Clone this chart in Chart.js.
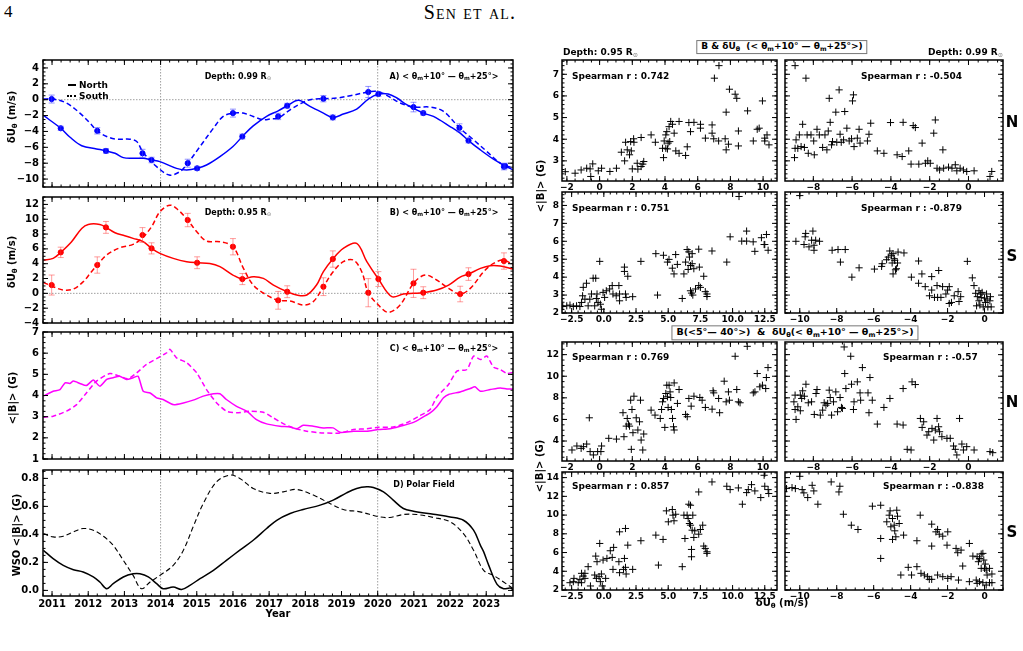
<!DOCTYPE html>
<html>
<head>
<meta charset="utf-8">
<script src="https://cdn.jsdelivr.net/npm/chart.js@4.4.0/dist/chart.umd.min.js"></script>
<style>
    body { margin: 0; background: #fff; }
    #page { position: relative; width: 1023px; height: 651px; overflow: hidden; font-family: "DejaVu Sans", sans-serif; color: #000; }
    #page canvas { position: absolute; }
    .t { position: absolute; font-weight: bold; white-space: nowrap; transform: translate(-50%, -50%); line-height: 1; }
    .l { transform: translate(0, -50%); }
    .r { transform: translate(-100%, -50%); }
    .rot { transform: translate(-50%, -50%) rotate(-90deg); }
    .t sub { font-size: 70%; vertical-align: -0.25em; }
    .sun { color: #999; }
    .box { border: 1px solid #777; padding: 1px 4px; background: #fff; }
    .hdr { position: absolute; font-family: "Liberation Serif", "DejaVu Serif", serif; font-size: 17px; }
    .leg { position: absolute; width: 8px; height: 2px; background: #000; }
    .leg.dash { width: 9px; background: repeating-linear-gradient(90deg, #000 0 2px, transparent 2px 3.5px); }
</style>
</head>
<body>
<div id="page">
    <div class="hdr" style="left:4px; top:2px;">4</div>
    <div class="hdr" style="left:470px; top:1px; transform:translateX(-50%); font-size:20px; font-variant:small-caps; letter-spacing:1.2px;">Sen et al.</div>

    <!-- left column texts -->
    <div class="t" style="left:238px; top:77px; font-size:8px;">Depth: 0.99 R<sub class="sun">⊙</sub></div>
    <div class="t" style="left:444px; top:77px; font-size:8px;">A) &lt; θ<sub>m</sub>+10° — θ<sub>m</sub>+25°&gt;</div>
    <div class="leg" style="left:68px; top:84px;"></div>
    <div class="t l" style="left:79px; top:85px; font-size:9px;">North</div>
    <div class="leg dash" style="left:67px; top:95px;"></div>
    <div class="t l" style="left:79px; top:96px; font-size:9px;">South</div>
    <div class="t" style="left:238px; top:213px; font-size:8px;">Depth: 0.95 R<sub class="sun">⊙</sub></div>
    <div class="t" style="left:444px; top:213px; font-size:8px;">B) &lt; θ<sub>m</sub>+10° — θ<sub>m</sub>+25°&gt;</div>
    <div class="t" style="left:444px; top:349px; font-size:8px;">C) &lt; θ<sub>m</sub>+10° — θ<sub>m</sub>+25°&gt;</div>
    <div class="t" style="left:424px; top:485px; font-size:8px;">D) Polar Field</div>
    <div class="t rot" style="left:13px; top:117px; font-size:10px;">δU<sub>θ</sub> (m/s)</div>
    <div class="t rot" style="left:13px; top:262px; font-size:10px;">δU<sub>θ</sub> (m/s)</div>
    <div class="t rot" style="left:13px; top:398px; font-size:10px;">&lt;|B|&gt; (G)</div>
    <div class="t rot" style="left:17px; top:535px; font-size:10px;">WSO &lt;|B|&gt; (G)</div>
    <div class="t" style="left:278px; top:614px; font-size:10px;">Year</div>

    <!-- right column texts -->
    <div class="t box" style="left:782px; top:47px; font-size:9px;">B &amp; δU<sub>θ</sub> &nbsp;(&lt; θ<sub>m</sub>+10° — θ<sub>m</sub>+25°&gt;)</div>
    <div class="t l" style="left:563px; top:53px; font-size:9px;">Depth: 0.95 R<sub class="sun">⊙</sub></div>
    <div class="t r" style="left:1003px; top:53px; font-size:9px;">Depth: 0.99 R<sub class="sun">⊙</sub></div>
    <div class="t box" style="left:795px; top:333px; font-size:9.5px;">B(&lt;5°— 40°&gt;) &nbsp;&amp;&nbsp; δU<sub>θ</sub>(&lt; θ<sub>m</sub>+10° — θ<sub>m</sub>+25°&gt;)</div>
    <div class="t" style="left:1012px; top:122px; font-size:15px;">N</div>
    <div class="t" style="left:1012px; top:256px; font-size:15px;">S</div>
    <div class="t" style="left:1012px; top:402px; font-size:15px;">N</div>
    <div class="t" style="left:1012px; top:532px; font-size:15px;">S</div>
    <div class="t rot" style="left:541px; top:186px; font-size:10px;">&lt;|B|&gt; (G)</div>
    <div class="t rot" style="left:540px; top:466px; font-size:10px;">&lt;|B|&gt; (G)</div>
    <div class="t" style="left:782px; top:604px; font-size:10px;">δU<sub>θ</sub> (m/s)</div>
</div>

<script>
// ---- time axis ----
const yearTicks = [2011, 2012, 2013, 2014, 2015, 2016, 2017, 2018, 2019, 2020, 2021, 2022, 2023];
const refYears = [2014, 2020];

// ---- panel A: dU_theta at 0.99 Rsun ----
const aNorthLine = [[2010.76,-1.98],[2011.24,-3.6],[2011.49,-4.7],[2011.82,-5.8],[2012.23,-6.2],[2012.49,-6.45],[2012.74,-6.75],[2012.97,-7.3],[2013.24,-7.38],[2013.52,-7.38],[2013.75,-7.6],[2013.98,-7.8],[2014.44,-8.65],[2014.72,-8.86],[2015.01,-8.65],[2015.27,-8.23],[2015.64,-7.17],[2016.0,-5.9],[2016.26,-4.64],[2016.56,-3.3],[2016.93,-2.1],[2017.25,-1.4],[2017.5,-0.76],[2017.81,-0.08],[2018.13,-0.84],[2018.5,-1.69],[2018.76,-2.24],[2019.05,-1.81],[2019.42,-1.18],[2019.74,0.08],[2020.02,0.72],[2020.29,0.72],[2020.53,0.21],[2020.8,-0.63],[2021.26,-1.69],[2021.54,-2.11],[2022.0,-3.38],[2022.28,-4.22],[2022.51,-5.15],[2022.84,-6.33],[2023.2,-7.5],[2023.52,-8.35],[2023.75,-8.86]];
const aSouthLine = [[2010.76,0.08],[2011.03,0.08],[2011.4,-0.42],[2011.77,-1.69],[2012.05,-2.95],[2012.25,-3.92],[2012.51,-4.64],[2012.78,-4.98],[2013.15,-4.98],[2013.34,-5.27],[2013.5,-6.54],[2013.66,-7.38],[2013.89,-8.44],[2014.24,-9.49],[2014.53,-9.07],[2014.75,-8.0],[2015.09,-5.9],[2015.46,-3.59],[2015.73,-2.11],[2016.0,-1.69],[2016.28,-1.69],[2016.56,-2.11],[2016.84,-2.53],[2017.07,-2.4],[2017.25,-2.32],[2017.58,-1.27],[2017.85,-0.55],[2018.13,0],[2018.5,0.13],[2018.87,0.21],[2019.24,0.5],[2019.74,0.97],[2019.97,1.05],[2020.25,0.55],[2020.62,-0.42],[2020.99,-0.93],[2021.45,-0.93],[2021.82,-1.48],[2022.26,-3.54],[2022.65,-5.06],[2023.02,-6.54],[2023.39,-8.0],[2023.75,-8.65]];
const aNorthPts = [[2011.24,-3.6,0.25],[2012.49,-6.45,0.3],[2013.75,-7.6,0.35],[2015.01,-8.65,0.25],[2016.26,-4.64,0.3],[2017.5,-0.76,0.3],[2018.76,-2.24,0.3],[2020.02,0.72,0.3],[2021.26,-1.69,0.25],[2022.51,-5.15,0.3],[2023.52,-8.35,0.35]];
const aSouthPts = [[2010.99,0.08,0.5],[2012.25,-3.92,0.4],[2013.5,-6.75,0.5],[2014.75,-8.0,0.5],[2016.0,-1.69,0.5],[2017.25,-2.11,0.4],[2018.5,0.13,0.4],[2019.74,0.97,0.7],[2020.99,-0.93,0.6],[2022.26,-3.54,0.5],[2023.49,-8.44,0.4]];

// ---- panel B: dU_theta at 0.95 Rsun ----
const bNorthLine = [[2010.76,4.49],[2011.03,4.72],[2011.24,5.53],[2011.54,6.97],[2011.82,8.76],[2012.0,9.3],[2012.32,9.3],[2012.49,8.9],[2012.74,8.18],[2013.01,7.78],[2013.24,7.42],[2013.52,6.97],[2013.75,6.07],[2013.98,5.39],[2014.35,4.72],[2014.72,4.27],[2015.01,4.13],[2015.36,4.04],[2015.64,3.6],[2016.0,2.47],[2016.26,1.93],[2016.56,2.25],[2016.84,2.02],[2017.12,1.12],[2017.5,0.22],[2017.76,-0.22],[2018.04,-0.22],[2018.31,1.12],[2018.5,2.92],[2018.76,4.63],[2019.05,6.07],[2019.42,6.74],[2019.7,4.27],[2020.02,1.93],[2020.39,-0.45],[2020.71,-0.09],[2020.99,0],[2021.26,0.09],[2021.63,0.45],[2021.96,1.12],[2022.28,2.2],[2022.51,2.6],[2022.84,3.37],[2023.11,3.73],[2023.39,3.69],[2023.75,3.28]];
const bSouthLine = [[2010.76,1.48],[2011.03,0.9],[2011.31,0.45],[2011.59,0.58],[2011.86,1.57],[2012.09,2.92],[2012.25,3.82],[2012.51,5.17],[2012.88,6.16],[2013.24,6.61],[2013.5,7.51],[2013.75,8.99],[2013.98,11.0],[2014.26,11.9],[2014.49,11.24],[2014.75,9.89],[2015.0,8.31],[2015.27,7.06],[2015.64,6.97],[2016.0,6.29],[2016.29,3.37],[2016.56,1.12],[2016.93,-0.22],[2017.25,-0.94],[2017.58,-1.03],[2017.95,-1.57],[2018.22,-1.12],[2018.5,0.9],[2018.77,2.92],[2019.05,4.27],[2019.33,4.49],[2019.56,2.92],[2019.74,0.09],[2020.02,-1.57],[2020.29,-2.56],[2020.62,-1.57],[2020.99,1.35],[2021.31,2.47],[2021.63,1.8],[2021.96,0.67],[2022.28,-0.09],[2022.56,0.67],[2022.93,2.92],[2023.2,4.04],[2023.48,4.49],[2023.75,3.82]];
const bNorthPts = [[2011.24,5.53,0.7],[2012.49,8.9,0.8],[2013.75,6.07,0.75],[2015.01,4.13,0.8],[2016.26,1.93,0.75],[2017.5,0.22,0.8],[2018.76,4.63,1.1],[2020.02,1.93,1.0],[2021.26,0.09,0.8],[2022.51,2.6,0.85]];
const bSouthPts = [[2010.99,1.12,1.35],[2012.25,3.82,1.1],[2013.5,7.87,1.0],[2014.75,9.89,0.9],[2016.0,6.29,1.1],[2017.25,-0.94,1.2],[2018.5,0.9,1.2],[2019.74,0.09,1.9],[2020.99,1.35,1.9],[2022.28,-0.09,1.05],[2023.49,4.36,1.1]];

// ---- panel C: <|B|> in the same band ----
const cNorth = [[2010.76,3.97],[2011.03,4.2],[2011.22,4.28],[2011.36,4.6],[2011.49,4.57],[2011.59,4.68],[2011.77,4.57],[2011.95,4.47],[2012.14,4.73],[2012.32,4.44],[2012.51,4.76],[2012.69,4.84],[2012.87,4.91],[2013.06,4.76],[2013.24,4.84],[2013.38,4.91],[2013.52,4.2],[2013.71,4.12],[2013.89,3.89],[2014.07,3.81],[2014.35,3.57],[2014.63,3.65],[2014.9,3.78],[2015.18,3.97],[2015.46,4.08],[2015.64,4.08],[2015.82,3.81],[2016.1,3.49],[2016.38,3.26],[2016.65,2.86],[2016.93,2.66],[2017.3,2.55],[2017.58,2.51],[2017.76,2.43],[2017.94,2.59],[2018.22,2.55],[2018.5,2.47],[2018.77,2.47],[2018.96,2.26],[2019.33,2.31],[2019.7,2.31],[2020.02,2.39],[2020.34,2.43],[2020.62,2.55],[2020.99,2.73],[2021.26,2.99],[2021.45,3.18],[2021.63,3.46],[2021.82,3.89],[2021.96,4.05],[2022.28,4.17],[2022.56,4.33],[2022.69,4.41],[2022.84,4.2],[2023.11,4.28],[2023.39,4.36],[2023.57,4.31],[2023.75,4.31]];
const cSouth = [[2010.76,2.97],[2011.03,3.02],[2011.4,3.26],[2011.68,3.57],[2011.95,4.12],[2012.23,4.68],[2012.6,5.04],[2012.87,4.91],[2013.1,4.79],[2013.34,5.07],[2013.61,5.47],[2013.89,5.74],[2014.17,6.02],[2014.26,6.18],[2014.44,5.78],[2014.72,5.55],[2015.0,5.07],[2015.27,4.28],[2015.55,3.65],[2015.82,3.26],[2016.1,3.18],[2016.47,3.26],[2016.84,3.21],[2017.12,2.94],[2017.39,2.67],[2017.67,2.47],[2018.04,2.31],[2018.5,2.23],[2018.96,2.23],[2019.33,2.39],[2019.7,2.43],[2020.02,2.5],[2020.43,2.51],[2020.8,2.71],[2021.17,3.05],[2021.45,3.34],[2021.63,3.92],[2021.96,4.52],[2022.19,5.15],[2022.47,5.23],[2022.65,5.86],[2022.84,5.7],[2023.02,5.86],[2023.2,5.34],[2023.39,5.23],[2023.57,5.04],[2023.75,5.1]];

// ---- panel D: WSO polar field ----
const dNorth = [[2010.76,0.287],[2011.03,0.227],[2011.31,0.179],[2011.59,0.148],[2011.86,0.131],[2012.14,0.096],[2012.32,0.06],[2012.51,0.012],[2012.69,0.048],[2012.97,0.096],[2013.24,0.119],[2013.43,0.119],[2013.66,0.096],[2013.89,0.048],[2014.07,0.012],[2014.35,0.024],[2014.58,0.007],[2014.81,0.036],[2015.09,0.084],[2015.46,0.143],[2015.82,0.215],[2016.19,0.287],[2016.56,0.358],[2016.93,0.442],[2017.21,0.501],[2017.58,0.549],[2017.94,0.578],[2018.41,0.609],[2018.77,0.645],[2019.14,0.697],[2019.42,0.728],[2019.7,0.74],[2019.88,0.735],[2020.16,0.704],[2020.43,0.645],[2020.71,0.585],[2020.99,0.566],[2021.54,0.544],[2022.0,0.525],[2022.37,0.501],[2022.65,0.43],[2022.84,0.322],[2022.93,0.275],[2023.07,0.179],[2023.3,0.043],[2023.48,0.012],[2023.66,0.017],[2023.75,0.005]];
const dSouth = [[2010.76,0.406],[2011.03,0.382],[2011.31,0.387],[2011.59,0.418],[2011.86,0.442],[2012.14,0.43],[2012.42,0.387],[2012.69,0.322],[2012.97,0.215],[2013.24,0.107],[2013.47,0.012],[2013.71,0.06],[2013.98,0.107],[2014.35,0.179],[2014.63,0.287],[2014.9,0.454],[2015.18,0.621],[2015.55,0.776],[2015.92,0.824],[2016.19,0.8],[2016.56,0.728],[2017.02,0.693],[2017.39,0.704],[2017.76,0.721],[2018.22,0.681],[2018.68,0.621],[2019.05,0.578],[2019.51,0.561],[2020.06,0.525],[2020.34,0.521],[2020.71,0.542],[2021.08,0.542],[2021.54,0.521],[2022.0,0.49],[2022.37,0.406],[2022.65,0.287],[2022.93,0.143],[2023.2,0.107],[2023.48,0.06],[2023.75,0.012]];

// ---- scatter panels: [dU_theta, <|B|>] ----
const band95N = [[-2.1,2.5],[-1.5,2.43],[-1.13,2.58],[-0.79,2.66],[-0.58,2.63],[-0.42,2.86],[-0.54,2.28],[-0.08,2.54],[0.12,2.66],[0.63,2.51],[1.03,2.66],[1.33,3.4],[1.53,3.0],[1.59,3.86],[1.69,3.51],[1.83,3.28],[1.9,3.89],[1.94,3.46],[2.0,2.63],[2.08,4.02],[2.1,3.86],[2.3,2.89],[2.34,2.62],[2.54,4.08],[2.54,2.74],[2.64,2.85],[2.7,2.97],[3.15,4.2],[3.41,3.86],[3.85,3.58],[3.91,3.15],[3.95,3.92],[4.05,4.2],[4.11,4.35],[4.15,3.55],[4.25,4.58],[4.29,3.89],[4.35,4.82],[4.46,4.69],[4.56,4.28],[4.66,3.46],[4.86,4.82],[4.86,3.35],[5.26,3.25],[5.36,3.65],[5.46,4.77],[5.56,4.35],[5.77,4.78],[6.17,4.69],[6.17,4.51],[6.47,4.05],[6.88,4.66],[6.88,4.28],[6.98,4.02],[7.02,6.82],[7.3,7.4],[7.28,3.92],[7.68,4.02],[7.74,3.51],[7.74,5.25],[7.88,3.77],[7.94,6.31],[8.29,6.08],[8.39,5.89],[8.49,4.38],[8.49,3.69],[9.05,5.31],[9.4,3.92],[9.64,4.46],[9.76,4.51],[9.96,5.77],[10.1,4.05],[10.24,4.2],[10.36,3.74],[10.1,3.92],[4.19,3.82],[4.05,3.58]];
const band99N = [[-8.94,7.4],[-8.38,6.82],[-8.97,3.15],[-8.94,3.58],[-8.89,3.97],[-8.8,3.58],[-8.72,4.2],[-8.63,3.66],[-8.55,4.69],[-8.46,3.62],[-8.32,4.2],[-8.26,3.35],[-8.12,4.2],[-7.98,3.92],[-7.95,3.28],[-7.81,4.46],[-7.69,4.2],[-7.52,3.62],[-7.4,4.2],[-7.3,3.51],[-7.23,4.38],[-7.18,5.89],[-7.13,4.78],[-7.06,3.74],[-7.01,3.89],[-6.84,5.25],[-6.79,3.86],[-6.67,6.28],[-6.62,4.23],[-6.56,3.86],[-6.44,3.97],[-6.38,5.28],[-6.27,4.51],[-6.15,3.92],[-6.03,4.02],[-5.98,5.77],[-5.93,6.05],[-5.9,3.66],[-5.73,4.05],[-5.64,4.46],[-5.59,3.82],[-5.21,3.92],[-5.13,4.23],[-5.04,4.74],[-4.7,3.46],[-4.36,3.35],[-4.02,4.77],[-3.68,3.28],[-3.42,3.2],[-3.37,4.78],[-3.08,3.46],[-2.96,2.85],[-2.85,4.63],[-2.74,4.54],[-2.56,2.85],[-2.39,3.82],[-2.22,2.89],[-2.1,3.0],[-1.97,2.89],[-1.79,4.28],[-1.71,4.89],[-1.62,2.66],[-1.49,2.58],[-1.32,3.51],[-1.28,2.66],[-1.03,2.71],[-0.85,2.66],[-0.68,2.82],[-0.6,2.54],[-0.43,2.66],[-0.26,2.58],[-0.09,2.51],[0.29,2.54],[1.11,2.28],[1.2,2.51]];
const band95S = [[-3.19,2.36],[-2.88,2.4],[-2.63,2.44],[-2.37,2.36],[-2.12,2.4],[-1.86,2.36],[-1.73,2.59],[-1.65,2.96],[-1.6,3.43],[-1.47,2.77],[-1.35,3.66],[-1.22,2.4],[-1.09,2.77],[-0.96,3.06],[-0.83,3.94],[-0.71,2.4],[-0.63,3.94],[-0.58,2.81],[-0.53,3.06],[-0.45,2.59],[-0.32,4.88],[-0.27,2.49],[-0.19,2.21],[-0.06,3.15],[0.06,2.87],[0.19,3.24],[0.45,3.34],[0.65,3.53],[0.71,3.06],[0.96,2.96],[1.17,3.53],[1.22,2.68],[1.22,3.06],[1.6,4.56],[1.6,4.32],[1.68,3.06],[1.73,2.87],[1.86,4.05],[2.24,2.91],[2.88,4.88],[4.17,3.0],[4.04,5.31],[4.63,5.22],[4.94,4.84],[5.06,4.99],[5.32,4.5],[5.45,4.18],[5.58,5.26],[5.71,4.71],[6.09,2.81],[6.22,4.18],[6.35,4.84],[6.47,5.54],[6.6,5.41],[6.55,4.43],[6.65,5.12],[6.73,4.65],[6.73,3.24],[6.81,3.11],[6.86,5.31],[6.86,4.75],[6.91,3.0],[6.99,4.47],[7.12,3.34],[7.37,3.53],[7.37,5.56],[7.42,4.56],[7.5,3.43],[7.76,4.05],[7.88,3.19],[8.01,3.06],[8.01,2.92],[8.4,5.46],[9.55,4.84],[9.81,6.25],[10.5,8.5],[11.09,6.57],[10.71,6.01],[11.09,6.01],[11.6,5.97],[11.73,5.44],[12.24,6.2],[12.45,5.82],[12.63,6.38],[12.76,5.5],[12.5,5.82]];
const band99S = [[-10.0,8.55],[-10.21,6.0],[-9.71,6.25],[-9.68,6.44],[-9.77,5.82],[-9.5,5.69],[-9.36,6.06],[-9.29,6.57],[-9.23,5.5],[-9.14,6.06],[-9.23,5.78],[-8.93,6.0],[-8.25,5.5],[-7.93,5.54],[-7.54,5.54],[-7.8,4.84],[-7.18,4.0],[-6.79,4.52],[-5.96,4.45],[-5.57,4.6],[-5.54,4.75],[-5.3,4.97],[-5.21,5.12],[-5.13,5.46],[-5.04,5.22],[-5.0,4.79],[-4.95,4.18],[-4.95,5.31],[-4.86,4.94],[-4.82,4.41],[-4.77,4.47],[-4.71,4.79],[-4.89,5.03],[-4.68,5.4],[-4.36,5.35],[-3.96,4.0],[-3.57,4.9],[-3.57,3.66],[-3.39,4.18],[-3.21,3.47],[-2.86,4.03],[-2.98,2.96],[-2.86,3.28],[-2.71,2.87],[-2.57,3.53],[-2.54,2.87],[-2.48,4.37],[-2.36,2.87],[-2.27,3.47],[-2.09,3.06],[-2.0,3.28],[-1.91,3.47],[-1.91,2.53],[-1.79,2.59],[-1.64,2.96],[-1.43,3.19],[-1.38,2.64],[-1.29,2.91],[-0.93,4.88],[-0.66,3.96],[-0.57,3.53],[-0.48,3.1],[-0.39,2.91],[-0.3,3.24],[-0.25,2.45],[-0.21,3.06],[-0.18,2.87],[-0.13,3.15],[-0.07,2.34],[0.0,2.83],[0.05,2.59],[0.11,3.06],[0.18,2.34],[0.29,2.68],[0.36,2.34],[-0.3,2.68],[-0.43,2.4],[0.14,2.78],[0.32,2.91]];
const low95N = [[-1.69,3.17],[-1.39,3.54],[-1.13,3.32],[-0.99,3.48],[-0.79,3.72],[-0.58,3.02],[-0.63,6.15],[-0.38,2.71],[-0.12,3.02],[0.08,3.02],[0.12,3.54],[0.56,4.25],[1.03,4.18],[1.43,6.62],[1.49,4.4],[1.63,5.38],[1.69,6.09],[1.77,5.57],[1.83,5.38],[1.9,7.78],[1.94,3.23],[1.98,6.92],[2.04,4.77],[2.1,8.15],[2.24,6.15],[2.34,5.02],[2.44,5.78],[2.5,7.78],[2.54,4.09],[2.64,3.17],[2.7,4.65],[3.15,6.86],[3.39,6.4],[3.71,6.09],[3.79,6.92],[3.85,7.63],[3.91,7.94],[3.99,5.26],[4.05,8.4],[4.11,9.17],[4.15,8.09],[4.19,7.11],[4.25,9.17],[4.31,8.55],[4.35,8.03],[4.39,6.92],[4.46,6.09],[4.52,5.32],[4.56,9.38],[4.56,5.02],[4.76,7.48],[4.86,8.77],[5.26,6.46],[5.36,6.25],[5.46,7.94],[5.6,7.23],[5.77,8.15],[6.13,8.03],[6.27,7.78],[6.47,7.11],[6.88,6.95],[6.94,8.65],[6.98,8.46],[7.28,7.94],[7.34,6.62],[7.62,9.54],[7.74,7.63],[7.88,8.55],[7.94,7.78],[8.29,11.85],[8.39,8.77],[8.49,7.63],[8.59,7.54],[9.03,12.77],[9.5,8.55],[9.64,10.25],[9.8,9.02],[9.96,9.17],[10.16,8.86],[10.2,9.88],[10.3,10.8],[9.4,8.46]];
const low99N = [[-8.89,6.0],[-8.94,6.92],[-9.0,7.63],[-8.94,8.25],[-8.8,7.17],[-8.67,8.25],[-8.6,7.94],[-8.55,8.65],[-8.46,8.15],[-8.38,9.26],[-8.67,6.8],[-8.26,7.54],[-8.09,7.63],[-7.95,6.46],[-7.86,8.4],[-7.81,8.77],[-7.64,6.4],[-7.52,6.86],[-7.44,7.54],[-7.35,7.32],[-7.26,7.48],[-7.18,8.71],[-7.13,8.03],[-7.06,6.4],[-6.96,7.63],[-6.84,8.55],[-6.75,6.71],[-6.62,8.03],[-6.55,7.11],[-6.41,12.71],[-6.5,7.02],[-6.32,8.86],[-6.38,10.25],[-6.07,11.85],[-6.03,9.26],[-5.93,6.92],[-5.9,7.63],[-5.73,9.48],[-5.59,8.46],[-5.56,7.78],[-5.47,10.8],[-5.18,8.46],[-5.13,6.62],[-5.08,9.88],[-4.96,7.78],[-4.7,5.57],[-4.36,7.11],[-4.05,7.94],[-3.68,5.57],[-3.37,5.48],[-3.37,8.86],[-3.16,3.23],[-2.96,3.17],[-2.91,9.48],[-2.74,9.23],[-2.48,6.09],[-2.39,5.26],[-2.31,5.78],[-2.14,4.55],[-2.05,4.86],[-1.88,5.17],[-1.79,4.09],[-1.71,5.02],[-1.62,6.09],[-1.54,5.32],[-1.49,4.86],[-1.37,4.4],[-1.11,4.25],[-0.94,4.25],[-0.77,3.54],[-0.68,3.23],[-0.6,2.71],[-0.46,6.09],[-0.34,3.72],[-0.26,3.17],[-0.09,3.48],[0.29,3.17],[1.11,3.02],[1.25,2.92]];
const low95S = [[-2.63,2.78],[-2.37,2.89],[-2.32,3.24],[-1.99,2.78],[-1.86,3.14],[-1.73,2.78],[-1.73,3.78],[-1.6,3.49],[-1.47,3.24],[-1.47,3.78],[-1.22,4.49],[-1.04,2.43],[-0.71,3.6],[-0.63,5.62],[-0.58,3.24],[-0.53,5.02],[-0.37,3.42],[-0.32,6.97],[-0.27,2.89],[-0.19,3.71],[-0.12,2.43],[-0.06,5.2],[0.14,3.24],[0.24,5.37],[0.5,6.19],[0.65,5.48],[0.71,4.2],[0.76,6.55],[1.22,8.21],[1.17,5.02],[1.22,3.85],[1.53,4.2],[1.6,5.37],[1.68,8.57],[1.68,4.42],[1.73,3.71],[1.86,6.79],[2.24,4.2],[2.88,7.26],[4.04,7.86],[4.24,4.66],[4.6,7.4],[4.86,10.45],[5.01,9.28],[5.32,10.59],[5.37,9.99],[5.45,9.39],[5.58,10.09],[6.09,4.49],[6.22,9.99],[6.3,7.5],[6.47,9.99],[6.55,9.63],[6.6,11.16],[6.65,9.1],[6.73,8.92],[6.73,11.05],[6.81,6.33],[6.81,5.55],[6.86,8.39],[6.91,9.99],[6.99,7.61],[7.06,8.32],[7.37,12.47],[7.37,7.96],[7.5,8.46],[7.68,8.92],[7.76,6.69],[7.88,6.44],[8.01,5.91],[8.01,6.08],[8.4,13.54],[9.55,13.08],[9.81,12.72],[10.45,12.9],[10.76,11.16],[11.22,12.72],[11.09,12.4],[11.47,13.25],[11.73,12.58],[12.19,11.87],[12.45,14.25],[12.5,13.08],[12.76,12.72],[12.81,12.3]];
const low99S = [[-10.72,12.83],[-10.42,12.93],[-10.24,12.83],[-10.0,14.14],[-9.87,12.72],[-9.78,12.37],[-9.57,11.87],[-9.33,13.18],[-9.24,12.58],[-9.02,11.16],[-8.3,13.54],[-7.88,12.47],[-7.83,13.08],[-7.64,10.09],[-7.21,8.92],[-6.85,8.46],[-6.07,10.95],[-5.62,11.05],[-5.62,7.5],[-5.62,5.37],[-5.29,9.28],[-5.16,9.99],[-5.11,10.45],[-5.07,8.75],[-4.98,9.63],[-4.98,7.4],[-4.89,8.92],[-4.86,8.32],[-4.8,7.68],[-4.75,10.52],[-4.71,9.88],[-4.62,9.1],[-4.38,7.86],[-4.13,4.42],[-4.53,3.6],[-3.48,9.99],[-3.66,7.26],[-2.86,9.03],[-2.86,6.69],[-2.63,8.21],[-2.54,8.46],[-2.45,7.96],[-2.26,7.75],[-1.99,8.21],[-2.03,6.79],[-1.54,6.44],[-1.45,5.98],[-1.27,6.26],[-1.18,4.56],[-0.82,6.97],[-0.63,5.62],[-0.4,5.55],[-0.33,5.02],[-0.27,5.37],[-0.18,5.84],[-0.18,4.31],[-0.09,5.91],[-0.04,5.2],[0.0,4.31],[0.04,4.77],[0.09,4.13],[0.14,3.6],[0.27,4.31],[0.4,3.71],[-3.66,4.49],[-3.95,3.6],[-3.44,3.78],[-3.26,3.6],[-3.08,3.42],[-2.99,3.14],[-2.86,3.14],[-2.54,3.6],[-2.26,3.42],[-1.99,3.24],[-1.81,3.42],[-1.41,3.06],[-0.82,2.89],[-0.45,3.06],[-0.4,2.71],[-0.27,2.89],[-0.09,2.78],[0.09,2.53],[0.27,2.78],[0.4,2.78]];

const spearman = ['0.742', '-0.504', '0.751', '-0.879', '0.769', '-0.57', '0.857', '-0.838'];

// ---- helpers ----
function seg(ctx, x0, y0, x1, y1) {
    ctx.beginPath(); ctx.moveTo(x0, y0); ctx.lineTo(x1, y1); ctx.stroke();
}
function minorVals(min, max, step) {
    const out = [];
    if (!step) return out;
    for (let k = Math.ceil(min / step - 1e-9); k * step <= max + 1e-9; k++) out.push(k * step);
    return out;
}
function fmt(v, dec) {
    const s = Math.abs(v).toFixed(dec);
    return (v < -1e-9 ? '\u2212' : '') + s;
}
const xy = arr => arr.map(p => ({ x: p[0], y: p[1] }));

// box with inward ticks on four sides, plus dotted reference lines
const framePlugin = {
    id: 'frame',
    beforeDatasetsDraw(chart, args, o) {
        const { ctx, chartArea: a, scales: { x, y } } = chart;
        ctx.save();
        ctx.strokeStyle = '#888'; ctx.lineWidth = 0.8; ctx.setLineDash([1.5, 1.5]);
        (o.vlines || []).forEach(v => { const p = x.getPixelForValue(v); seg(ctx, p, a.top, p, a.bottom); });
        (o.hlines || []).forEach(v => { const p = y.getPixelForValue(v); seg(ctx, a.left, p, a.right, p); });
        ctx.restore();
    },
    afterDatasetsDraw(chart, args, o) {
        const { ctx, chartArea: a, scales: { x, y } } = chart;
        ctx.save();
        ctx.strokeStyle = '#000'; ctx.lineWidth = 1;
        const big = 5, small = 2.5;
        const xt = (v, len) => { const p = x.getPixelForValue(v); seg(ctx, p, a.bottom, p, a.bottom - len); seg(ctx, p, a.top, p, a.top + len); };
        const yt = (v, len) => { const p = y.getPixelForValue(v); seg(ctx, a.left, p, a.left + len, p); seg(ctx, a.right, p, a.right - len, p); };
        minorVals(x.min, x.max, o.xMinor).forEach(v => xt(v, small));
        minorVals(y.min, y.max, o.yMinor).forEach(v => yt(v, small));
        x.ticks.forEach(t => xt(t.value, big));
        y.ticks.forEach(t => yt(t.value, big));
        ctx.lineWidth = 1.5;
        ctx.strokeRect(a.left, a.top, a.right - a.left, a.bottom - a.top);
        ctx.restore();
    }
};

// vertical error bars from dataset.errors
const errorBarPlugin = {
    id: 'errbars',
    afterDatasetsDraw(chart) {
        const { ctx, scales: { y } } = chart;
        chart.data.datasets.forEach((ds, i) => {
            if (!ds.errors) return;
            const meta = chart.getDatasetMeta(i);
            ctx.save();
            ctx.strokeStyle = ds.errorColor; ctx.lineWidth = 1;
            meta.data.forEach((pt, j) => {
                const v = ds.data[j].y, e = ds.errors[j];
                const y0 = y.getPixelForValue(v - e), y1 = y.getPixelForValue(v + e);
                seg(ctx, pt.x, y0, pt.x, y1);
                seg(ctx, pt.x - 3, y0, pt.x + 3, y0);
                seg(ctx, pt.x - 3, y1, pt.x + 3, y1);
            });
            ctx.restore();
        });
    }
};

function axis(a, size, dir) {
    return {
        type: 'linear', min: a.min, max: a.max,
        grid: { display: false, drawTicks: false },
        border: { display: false },
        afterBuildTicks: s => { s.ticks = a.ticks.map(v => ({ value: v })); },
        afterFit: s => { if (dir === 'x') s.height = size; else s.width = size; },
        ticks: {
            display: a.labels !== false, autoSkip: false, maxRotation: 0, minRotation: 0,
            padding: a.pad !== undefined ? a.pad : 3, color: '#000',
            font: { family: 'DejaVu Sans', weight: 'bold', size: a.fs || 9 },
            callback: v => fmt(v, a.dec || 0)
        }
    };
}

function makePanel(box, pad, cfg) {
    const c = document.createElement('canvas');
    const W = box.w + pad.l + pad.r, H = box.h + pad.t + pad.b;
    c.width = W; c.height = H;
    c.style.left = (box.l - pad.l) + 'px';
    c.style.top = (box.t - pad.t) + 'px';
    c.style.width = W + 'px'; c.style.height = H + 'px';
    document.getElementById('page').insertBefore(c, document.getElementById('page').firstChild);
    return new Chart(c, {
        type: 'scatter',
        data: { datasets: cfg.datasets },
        options: {
            responsive: false, animation: false, devicePixelRatio: 1,
            layout: { padding: { top: pad.t, right: pad.r, left: 0, bottom: 0 } },
            plugins: { legend: { display: false }, tooltip: { enabled: false }, frame: cfg.frame },
            scales: { x: axis(cfg.x, pad.b, 'x'), y: axis(cfg.y, pad.l, 'y') }
        },
        plugins: [framePlugin, errorBarPlugin]
    });
}

function curve(data, color, dashed, width, tension) {
    return {
        data: xy(data), showLine: true, borderColor: color, borderWidth: width || 1.5,
        borderDash: dashed ? [5, 3] : [], pointRadius: 0, tension: tension === undefined ? 0.35 : tension
    };
}
function markers(data, color, errColor) {
    return {
        data: xy(data), showLine: false, pointRadius: 2.6, pointBackgroundColor: color,
        pointBorderColor: color, errors: data.map(p => p[2]), errorColor: errColor
    };
}
function crosses(data) {
    return {
        data: xy(data), showLine: false, pointStyle: 'cross', pointRadius: 3.6,
        pointBorderColor: '#000', pointBorderWidth: 1
    };
}

// ---- left column ----
const timeX = (labels) => ({ min: 2010.75, max: 2023.74, ticks: yearTicks, labels: labels, fs: 10, pad: 2 });
const leftPad = { l: 43, r: 8, t: 12, b: 12 };
const blue = '#0000ff', red = '#ff0000', mag = '#ff00ff';

makePanel({ l: 43, t: 60, w: 470, h: 127 }, leftPad, {
    datasets: [curve(aNorthLine, blue), curve(aSouthLine, blue, true),
        markers(aNorthPts, blue, 'rgba(60,60,255,0.55)'), markers(aSouthPts, blue, 'rgba(60,60,255,0.55)')],
    x: timeX(false),
    y: { min: -11, max: 5, ticks: [-10, -8, -6, -4, -2, 0, 2, 4], fs: 10, pad: 4 },
    frame: { vlines: refYears, hlines: [0], xMinor: 0.25, yMinor: 0.5 }
});
makePanel({ l: 43, t: 197, w: 470, h: 126 }, leftPad, {
    datasets: [curve(bNorthLine, red), curve(bSouthLine, red, true),
        markers(bNorthPts, red, 'rgba(255,60,60,0.5)'), markers(bSouthPts, red, 'rgba(255,60,60,0.5)')],
    x: timeX(false),
    y: { min: -4, max: 13, ticks: [-4, -2, 0, 2, 4, 6, 8, 10, 12], fs: 10, pad: 4 },
    frame: { vlines: refYears, hlines: [0], xMinor: 0.25, yMinor: 0.5 }
});
makePanel({ l: 43, t: 332, w: 470, h: 127 }, leftPad, {
    datasets: [curve(cNorth, mag, false, 1.5, 0.2), curve(cSouth, mag, true, 1.5, 0.2)],
    x: timeX(false),
    y: { min: 1, max: 7, ticks: [1, 2, 3, 4, 5, 6, 7], fs: 10, pad: 4 },
    frame: { vlines: refYears, xMinor: 0.25, yMinor: 0.25 }
});
makePanel({ l: 43, t: 470, w: 470, h: 126 }, { l: 43, r: 8, t: 12, b: 22 }, {
    datasets: [curve(dNorth, '#000', false, 1.5), curve(dSouth, '#000', true, 1.1)],
    x: timeX(true),
    y: { min: -0.04, max: 0.86, ticks: [0, 0.2, 0.4, 0.6, 0.8], dec: 1, fs: 10, pad: 4 },
    frame: { vlines: refYears, xMinor: 0.25, yMinor: 0.05 }
});

// ---- right block: 4 rows x 2 columns ----
const colBox = [{ l: 562, w: 217 }, { l: 783, w: 220 }];
const rowBox = [{ t: 60, h: 121 }, { t: 192, h: 121 }, { t: 342, h: 119 }, { t: 472, h: 118 }];
const xAxes = {
    N: [{ min: -2.3, max: 10.85, ticks: [-2, 0, 2, 4, 6, 8, 10], minor: 0.5, dec: 0 },
        { min: -9.46, max: 1.78, ticks: [-8, -6, -4, -2, 0], minor: 0.5, dec: 0 }],
    S: [{ min: -3.25, max: 13.45, ticks: [-2.5, 0, 2.5, 5, 7.5, 10, 12.5], minor: 0.5, dec: 1 },
        { min: -10.8, max: 1.0, ticks: [-10, -8, -6, -4, -2, 0], minor: 0.5, dec: 0 }]
};
const rows = [
    { hemi: 'N', y: { min: 2.07, max: 7.66, ticks: [3, 4, 5, 6, 7] }, yMinor: 0.2, sets: [band95N, band99N] },
    { hemi: 'S', y: { min: 2, max: 8.75, ticks: [2, 3, 4, 5, 6, 7, 8] }, yMinor: 0.2, sets: [band95S, band99S] },
    { hemi: 'N', y: { min: 2.15, max: 13.17, ticks: [4, 6, 8, 10, 12] }, yMinor: 0.5, sets: [low95N, low99N] },
    { hemi: 'S', y: { min: 2, max: 14.6, ticks: [2, 4, 6, 8, 10, 12, 14] }, yMinor: 0.5, sets: [low95S, low99S] }
];
const spearPos = [[572, 76], [861, 76], [572, 208], [861, 208], [572, 357], [883, 357], [572, 486], [883, 486]];

rows.forEach((row, ri) => {
    [0, 1].forEach(ci => {
        const xa = xAxes[row.hemi][ci];
        const box = { l: colBox[ci].l, w: colBox[ci].w, t: rowBox[ri].t, h: rowBox[ri].h };
        const pad = ci === 0 ? { l: 22, r: 3, t: 12, b: 14 } : { l: 3, r: 8, t: 12, b: 14 };
        makePanel(box, pad, {
            datasets: [crosses(row.sets[ci])],
            x: { min: xa.min, max: xa.max, ticks: xa.ticks, dec: xa.dec, fs: 9, pad: 1 },
            y: { min: row.y.min, max: row.y.max, ticks: row.y.ticks, fs: 9, pad: 3, labels: ci === 0 },
            frame: { xMinor: xa.minor, yMinor: row.yMinor }
        });
        const k = ri * 2 + ci;
        const d = document.createElement('div');
        d.className = 't l';
        d.style.left = spearPos[k][0] + 'px';
        d.style.top = spearPos[k][1] + 'px';
        d.style.fontSize = '9px';
        d.textContent = 'Spearman r : ' + spearman[k];
        document.getElementById('page').appendChild(d);
    });
});
</script>
</body>
</html>
